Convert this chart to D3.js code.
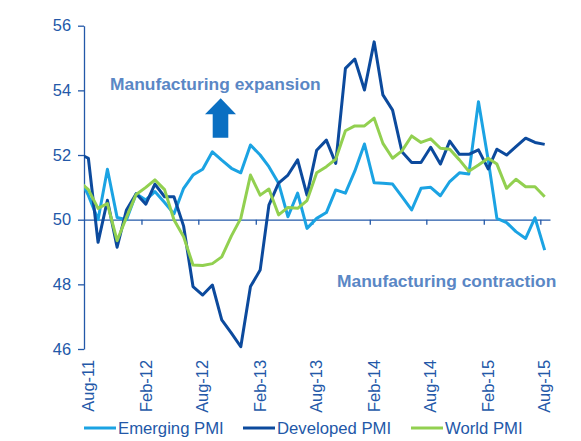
<!DOCTYPE html>
<html>
<head>
<meta charset="utf-8">
<script src="https://cdn.jsdelivr.net/npm/d3@7"></script>
<style>
  body { margin: 0; background: #fff; }
  svg { display: block; font-family: "Liberation Sans", Arial, sans-serif; }
</style>
</head>
<body>
<svg id="chart" width="581" height="441"></svg>
<script>
// monthly readings, Jul-11 .. Aug-15 (Jul-11 sits just left of the axis and is clipped)
const firstMonth = "2011-07";
const emerging = [51.35, 50.75, 50.0, 51.56, 50.07, 50.0, 50.8, 50.61, 50.87, 50.53,
  50.18, 50.97, 51.38, 51.56, 52.1, 51.84, 51.59, 51.45, 52.31, 52.0,
  51.64, 51.13, 50.09, 50.82, 49.73, 50.04, 50.22, 50.92, 50.82, 51.5,
  52.34, 51.14, 51.13, 51.1, 50.71, 50.3, 50.97, 51.0, 50.74, 51.18,
  51.45, 51.41, 53.65, 51.85, 50.04, 49.91, 49.63, 49.42, 50.06, 49.06];
const developed = [52.05, 51.9, 49.3, 50.6, 49.15, 50.3, 50.8, 50.48, 51.1, 50.71,
  50.71, 49.8, 47.93, 47.67, 47.98, 46.9, 46.49, 46.07, 47.93, 48.44,
  50.45, 51.13, 51.38, 51.85, 50.76, 52.15, 52.46, 51.74, 54.68, 54.97,
  54.01, 55.5, 53.86, 53.39, 52.1, 51.77, 51.77, 52.24, 51.72, 52.43,
  52.02, 52.02, 52.16, 51.57, 52.18, 52.0, 52.26, 52.52, 52.39, 52.33];
const world = [51.2, 50.93, 50.35, 50.5, 49.35, 50.08, 50.78, 51.0, 51.23, 50.93,
  50.0, 49.47, 48.6, 48.58, 48.64, 48.85, 49.5, 50.04, 51.38, 50.76,
  50.95, 50.15, 50.38, 50.35, 50.59, 51.45, 51.64, 51.87, 52.75, 52.9,
  52.9, 53.14, 52.36, 51.9, 52.13, 52.59, 52.39, 52.5, 52.21, 52.18,
  51.85, 51.5, 51.69, 51.9, 51.72, 50.97, 51.25, 51.02, 51.02, 50.71];
const seriesNames = ["Emerging PMI", "Developed PMI", "World PMI"];
const seriesColors = ["#1ba3e3", "#0c4a9d", "#92d050"];
const tickLabels = ["Aug-11", "Feb-12", "Aug-12", "Feb-13", "Aug-13", "Feb-14", "Aug-14", "Feb-15", "Aug-15"];
const yTicks = [46, 48, 50, 52, 54, 56];

const axisColor = "#2358a8";
const noteColor = "#5a87c5";

const svg = d3.select("#chart");
const plot = { left: 84, right: 550, top: 25.7, bottom: 349 };

const start = d3.timeParse("%Y-%m")(firstMonth);
const months = d3.range(emerging.length).map(i => d3.timeDay.offset(d3.timeMonth.offset(start, i), 14));
const parseTick = d3.timeParse("%b-%y");
const tickDates = tickLabels.map(parseTick);

const x = d3.scaleTime()
  .domain([parseTick("Aug-11"), d3.timeMonth.offset(parseTick("Aug-15"), 1)])
  .range([plot.left, plot.right]);
const y = d3.scaleLinear().domain([46, 56]).range([plot.bottom, plot.top]);

svg.append("defs").append("clipPath").attr("id", "plot-clip")
  .append("rect")
  .attr("x", plot.left).attr("y", 0)
  .attr("width", plot.right - plot.left).attr("height", plot.bottom + 10);

// y axis
const yAxis = svg.append("g")
  .attr("transform", `translate(${plot.left},0)`)
  .call(d3.axisLeft(y).tickValues(yTicks).tickSize(6).tickPadding(7).tickSizeOuter(0));
yAxis.select(".domain").attr("stroke", axisColor).attr("stroke-width", 1.3);
yAxis.selectAll(".tick line").attr("stroke", axisColor).attr("stroke-width", 1.3);
yAxis.selectAll(".tick text")
  .attr("fill", axisColor)
  .style("font-size", "16.4px")
  .style("font-family", "Liberation Sans, Arial, sans-serif");

// x axis crossing at 50
const xAxis = svg.append("g")
  .attr("transform", `translate(0,${y(50)})`)
  .call(d3.axisBottom(x).tickValues(tickDates.slice(1)).tickSize(5).tickSizeOuter(0).tickFormat(""));
xAxis.select(".domain").attr("stroke", axisColor).attr("stroke-width", 1.3);
xAxis.selectAll(".tick line").attr("stroke", axisColor).attr("stroke-width", 1.3);

// rotated month labels along the bottom
svg.append("g").selectAll("text")
  .data(tickDates)
  .join("text")
  .attr("transform", d => `translate(${x(d3.timeDay.offset(d, 14))},360) rotate(-90)`)
  .attr("dy", "0.35em")
  .attr("text-anchor", "end")
  .attr("fill", axisColor)
  .style("font-size", "16.4px")
  .text((d, i) => tickLabels[i]);

// lines
const allSeries = [emerging, developed, world];
const line = d3.line().x((d, i) => x(months[i])).y(d => y(d));
svg.append("g").attr("clip-path", "url(#plot-clip)")
  .selectAll("path")
  .data(allSeries)
  .join("path")
  .attr("d", line)
  .attr("fill", "none")
  .attr("stroke", (d, i) => seriesColors[i])
  .attr("stroke-width", 3)
  .attr("stroke-linejoin", "round");

// annotations
svg.append("text")
  .attr("x", 110).attr("y", 90)
  .attr("fill", noteColor)
  .style("font-size", "17.4px").style("font-weight", "bold")
  .text("Manufacturing expansion");
svg.append("text")
  .attr("x", 337).attr("y", 287)
  .attr("fill", noteColor)
  .style("font-size", "17.4px").style("font-weight", "bold")
  .text("Manufacturing contraction");

svg.append("path")
  .attr("d", "M220.7,98.3 L236,114.3 L228.3,114.3 L228.3,137.7 L212.7,137.7 L212.7,114.3 L205,114.3 Z")
  .attr("fill", "#0a6fc2");

// legend
const legendX = [84, 243, 411];
const legend = svg.append("g").selectAll("g")
  .data(seriesNames)
  .join("g")
  .attr("transform", (d, i) => `translate(${legendX[i]},428)`);
legend.append("line")
  .attr("x1", 0).attr("x2", 32)
  .attr("stroke", (d, i) => seriesColors[i])
  .attr("stroke-width", 3);
legend.append("text")
  .attr("x", 34).attr("dy", "0.35em")
  .attr("fill", axisColor)
  .style("font-size", "16.7px")
  .text(d => d);
</script>
</body>
</html>
